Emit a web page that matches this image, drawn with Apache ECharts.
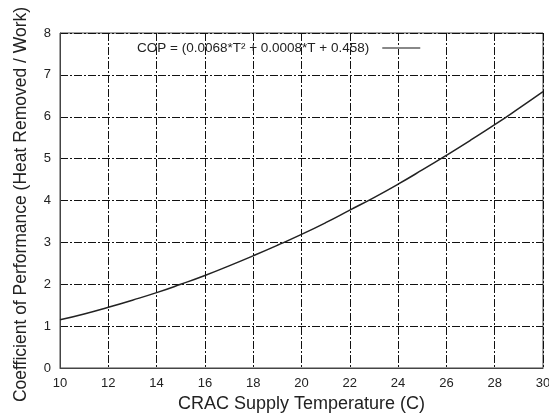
<!DOCTYPE html>
<html>
<head>
<meta charset="utf-8">
<script src="https://cdn.jsdelivr.net/npm/echarts@6/dist/echarts.min.js"></script>
<style>
  html, body { margin: 0; padding: 0; background: #fff; }
  #chart { width: 549px; height: 414px; }
</style>
</head>
<body>
<div id="chart"></div>
<script>
// supply temperature (C) and COP values
const temps = [10, 11, 12, 13, 14, 15, 16, 17, 18, 19, 20, 21, 22, 23, 24, 25, 26, 27, 28, 29, 30];
const cop = [1.15, 1.29, 1.45, 1.62, 1.80, 2.00, 2.21, 2.44, 2.68, 2.93, 3.19, 3.47, 3.77, 4.07, 4.39, 4.73, 5.08, 5.44, 5.81, 6.20, 6.60];
const seriesName = "COP = (0.0068*T² + 0.0008*T + 0.458)";

let myChart = echarts.init(document.getElementById("chart"));
let gridLine = {
  show: true,
  lineStyle: { color: "#111", width: 1, type: [8, 2, 2, 2] },
};
let option = {
  animation: false,
  textStyle: { fontFamily: "Liberation Sans" },
  grid: {
    left: 60,
    right: 6,
    top: 33,
    bottom: 46,
    outerBoundsMode: "none",
    show: true,
    borderColor: "#444",
    borderWidth: 1,
  },
  legend: {
    show: true,
    left: 132,
    top: 36,
    align: "right",
    icon: "rect",
    itemWidth: 38,
    itemHeight: 2,
    itemGap: 0,
    data: [seriesName],
    itemStyle: { color: "#888" },
    textStyle: { fontSize: 13.5, color: "#222", fontFamily: "Liberation Sans", padding: [0, 8, 0, 0] },
  },
  xAxis: {
    type: "value",
    min: 10,
    max: 30,
    interval: 2,
    name: "CRAC Supply Temperature (C)",
    nameLocation: "middle",
    nameGap: 25,
    nameTextStyle: { fontSize: 18, color: "#222" },
    axisLine: { show: true, lineStyle: { color: "#444" } },
    axisTick: { show: false },
    axisLabel: { fontSize: 13, color: "#222", margin: 9 },
    splitLine: gridLine,
  },
  yAxis: {
    type: "value",
    min: 0,
    max: 8,
    interval: 1,
    name: "Coefficient of Performance (Heat Removed / Work)",
    nameLocation: "middle",
    nameGap: 30,
    nameTextStyle: { fontSize: 17.5, color: "#222", padding: [0, 8, 0, 0] },
    axisLine: { show: true, lineStyle: { color: "#444" } },
    axisTick: { show: false },
    axisLabel: { fontSize: 13, color: "#222", margin: 9 },
    splitLine: gridLine,
  },
  series: [
    {
      name: seriesName,
      type: "line",
      symbol: "none",
      smooth: true,
      data: temps.map((t, i) => [t, cop[i]]),
      lineStyle: { color: "#222", width: 1.5 },
      itemStyle: { color: "#222" },
    },
  ],
};
myChart.setOption(option);
</script>
</body>
</html>
